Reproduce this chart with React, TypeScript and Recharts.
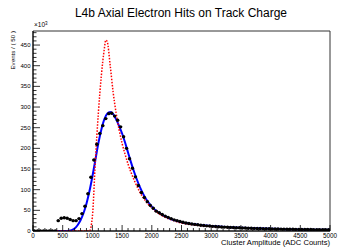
import {
  ComposedChart,
  Line,
  Scatter,
  XAxis,
  YAxis,
  ReferenceArea,
} from 'recharts'

// data histogram: bin centers (width 50), values in units of 10^3
const binCenters = [
  25, 75, 125, 175, 225, 275, 325, 375, 425, 475,
  525, 575, 625, 675, 725, 775, 825, 875, 925, 975,
  1025, 1075, 1125, 1175, 1225, 1275, 1325, 1375, 1425, 1475,
  1525, 1575, 1625, 1675, 1725, 1775, 1825, 1875, 1925, 1975,
  2025, 2075, 2125, 2175, 2225, 2275, 2325, 2375, 2425, 2475,
  2525, 2575, 2625, 2675, 2725, 2775, 2825, 2875, 2925, 2975,
  3025, 3075, 3125, 3175, 3225, 3275, 3325, 3375, 3425, 3475,
  3525, 3575, 3625, 3675, 3725, 3775, 3825, 3875, 3925, 3975,
  4025, 4075, 4125, 4175, 4225, 4275, 4325, 4375, 4425, 4475,
  4525, 4575, 4625, 4675, 4725, 4775, 4825, 4875, 4925, 4975,
]
const binCounts = [
  0, 0, 0, 0, 0, 0, 0, 0, 25, 31,
  32, 31, 28, 25, 25, 30, 42, 60, 90, 130,
  172, 210, 236, 255, 272, 284, 285, 278, 268, 252,
  228, 200, 175, 152, 131, 110, 93, 81, 71, 62,
  55, 48, 44, 40, 36, 33, 30, 27, 25, 23,
  21, 19.5, 18, 17, 16, 15, 14, 13.2, 12.5, 12,
  11.3, 10.8, 10.3, 9.8, 9.4, 9, 8.7, 8.3, 8, 7.7,
  7.4, 7.1, 6.8, 6.5, 6.3, 6.1, 5.9, 5.7, 5.5, 5.3,
  5.1, 4.9, 4.8, 4.6, 4.5, 4.3, 4.2, 4.1, 4, 3.9,
  3.8, 3.7, 3.6, 3.5, 3.4, 3.3, 3.2, 3.1, 3, 2.9,
]

// fit (blue, solid)
const fitX = [
  0, 550, 600, 650, 700, 750, 800, 850, 900, 950, 1000, 1050, 1100, 1150, 1200,
  1250, 1300, 1350, 1400, 1450, 1500, 1550, 1600, 1650, 1700, 1750, 1800, 1850,
  1900, 1950, 2000, 2100, 2200, 2300, 2400, 2500, 2600, 2700, 2800, 2900, 3000,
  3250, 3500, 3750, 4000, 4250, 4500, 4750, 5000,
]
const fitY = [
  0, 0, 0.5, 2, 6, 14, 26, 43, 66, 96, 132, 172, 212, 245, 270,
  284, 288, 283, 270, 254, 236, 214, 190, 166, 144, 124, 106, 91,
  78, 68, 59, 46, 37, 30, 25, 21, 18.5, 16.5, 14.8, 13.3, 12,
  9.5, 7.8, 6.4, 5.3, 4.5, 3.8, 3.2, 2.8,
]

// unsmeared model (red, dotted)
const modelX = [
  0, 950, 1000, 1050, 1100, 1150, 1200, 1225, 1250, 1300, 1350, 1400, 1450, 1500,
  1550, 1600, 1650, 1700, 1750, 1800, 1850, 1900, 1950, 2000, 2100, 2200, 2300,
  2400, 2500, 2600, 2700, 2800, 2900, 3000, 3250, 3500, 3750, 4000, 4500, 5000,
]
const modelY = [
  0, 0, 35, 170, 285, 375, 440, 462, 458, 400, 335, 285, 245, 212,
  186, 162, 142, 124, 108, 94, 82, 72, 63, 56, 44, 35, 28.5,
  23.5, 19.5, 17, 15, 13.3, 12, 10.8, 8.6, 7, 5.8, 4.9, 3.5, 2.6,
]

const xTicks = Array.from({ length: 51 }, (_, i) => i * 100)
const yTicks = Array.from({ length: 49 }, (_, i) => i * 10)

const points = binCenters.map((x, i) => ({ x, y: binCounts[i] }))
const fitLine = fitX.map((x, i) => ({ x, y: fitY[i] }))
const modelLine = modelX.map((x, i) => ({ x, y: modelY[i] }))

const font = '"Liberation Sans", Arial, Helvetica, sans-serif'

function XTick({ x, y, payload }: any) {
  const major = payload.value % 500 === 0
  return (
    <g>
      <line x1={x} x2={x} y1={y} y2={y - (major ? 6 : 3)} stroke="#000" strokeWidth={0.8} />
      {major && (
        <text x={x} y={y + 6.5} textAnchor="middle" fontSize={6.3} fontFamily={font} fill="#000">
          {payload.value}
        </text>
      )}
    </g>
  )
}

function YTick({ x, y, payload }: any) {
  const major = payload.value % 50 === 0
  return (
    <g>
      <line x1={x} x2={x + (major ? 7 : 3.5)} y1={y} y2={y} stroke="#000" strokeWidth={0.8} />
      {major && (
        <text x={x - 2.5} y={y + 2} textAnchor="end" fontSize={6} fontFamily={font} fill="#000">
          {payload.value}
        </text>
      )}
    </g>
  )
}

// data point with its horizontal bin bar
function Dot({ cx, cy }: any) {
  return (
    <g>
      <line x1={cx - 1.5} x2={cx + 1.5} y1={cy} y2={cy} stroke="#000" strokeWidth={1} />
      <circle cx={cx} cy={cy} r={1.7} fill="#000" />
    </g>
  )
}

export default function App() {
  return (
    <div
      style={{
        position: 'absolute',
        left: 0,
        top: 0,
        width: 338,
        height: 249,
        background: '#fff',
        fontFamily: font,
      }}
    >
      <ComposedChart
        width={338}
        height={249}
        margin={{ top: 31, right: 8, left: 0, bottom: 0 }}
      >
        <XAxis
          dataKey="x"
          type="number"
          domain={[0, 5000]}
          ticks={xTicks}
          interval={0}
          tickSize={0}
          tickMargin={0}
          tickLine={false}
          tick={<XTick />}
          height={18}
          axisLine={{ stroke: '#000' }}
          allowDataOverflow
        />
        <YAxis
          type="number"
          domain={[0, 484]}
          ticks={yTicks}
          interval={0}
          tickSize={0}
          tickMargin={0}
          tickLine={false}
          tick={<YTick />}
          width={33}
          axisLine={{ stroke: '#000' }}
          allowDataOverflow
        />
        <ReferenceArea
          x1={0}
          x2={5000}
          y1={0}
          y2={484}
          fill="none"
          stroke="#333"
          strokeWidth={1}
        />
        <Scatter
          data={points}
          dataKey="y"
          fill="#000"
          shape={<Dot />}
          isAnimationActive={false}
        />
        <Line
          data={fitLine}
          dataKey="y"
          type="monotone"
          stroke="#0000ff"
          strokeWidth={2}
          dot={false}
          isAnimationActive={false}
        />
        <Line
          data={modelLine}
          dataKey="y"
          type="monotone"
          stroke="#ff0000"
          strokeWidth={1.5}
          strokeDasharray="1.5 1.5"
          dot={false}
          isAnimationActive={false}
        />
      </ComposedChart>
      <svg
        width={338}
        height={249}
        style={{ position: 'absolute', left: 0, top: 0, pointerEvents: 'none' }}
      >
        <text x={181} y={17} textAnchor="middle" fontSize={12} fontFamily={font} fill="#000">
          L4b Axial Electron Hits on Track Charge
        </text>
        <text x={34} y={27} fontSize={6.5} fontFamily={font} fill="#000">
          ×10
          <tspan fontSize={4.5} dy={-2.5}>3</tspan>
        </text>
        <text
          transform="translate(15, 31) rotate(-90)"
          textAnchor="end"
          fontSize={6.2}
          fontFamily={font}
          fill="#000"
        >
          Events / ( 50 )
        </text>
        <text x={330} y={245} textAnchor="end" fontSize={7.6} fontFamily={font} fill="#000">
          Cluster Amplitude (ADC Counts)
        </text>
      </svg>
    </div>
  )
}
